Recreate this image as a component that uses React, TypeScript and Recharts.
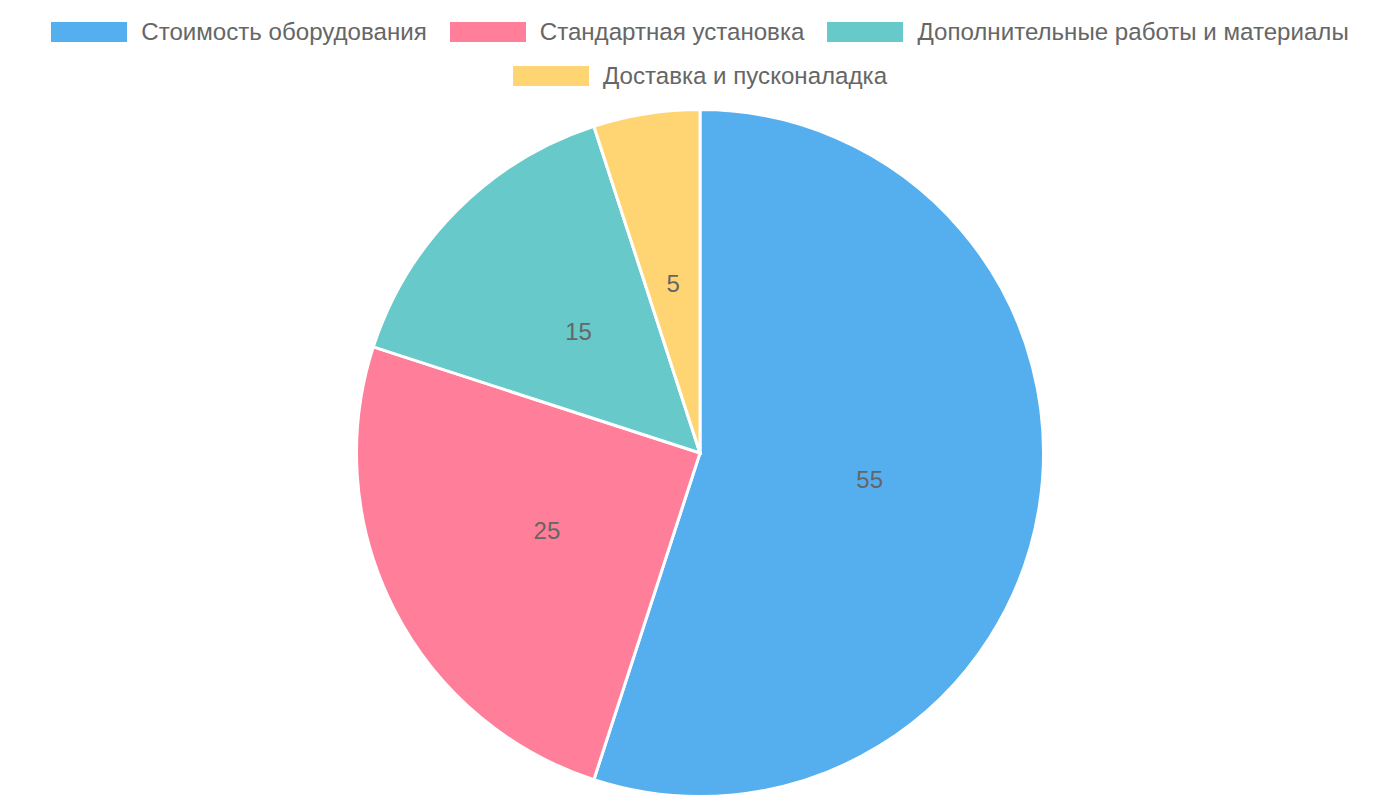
import { PieChart, Pie, Cell } from 'recharts';

const categories = [
  'Стоимость оборудования',
  'Стандартная установка',
  'Дополнительные работы и материалы',
  'Доставка и пусконаладка',
];
const shares = [55, 25, 15, 5];
const colors = ['#55AFEE', '#FF7E99', '#67C9C9', '#FFD573'];

const FONT = '"Liberation Sans", Arial, sans-serif';

const RAD = Math.PI / 180;

const renderLabel = ({ cx, cy, midAngle, outerRadius, value }: any) => {
  const r = outerRadius / 2;
  const x = cx + r * Math.cos(-midAngle * RAD);
  const y = cy + r * Math.sin(-midAngle * RAD);
  return (
    <text x={x} y={y} fill="#666" fontSize={24} fontFamily={FONT} textAnchor="middle" dominantBaseline="central">
      {value}
    </text>
  );
};

export default function App() {
  const data = categories.map((name, i) => ({ name, value: shares[i] }));

  return (
    <div style={{ position: 'absolute', left: 0, top: 0, width: 1400, height: 800, background: '#fff' }}>
      <div
        style={{
          position: 'absolute',
          left: 0,
          top: 10,
          width: 1400,
          display: 'flex',
          flexWrap: 'wrap',
          justifyContent: 'center',
          fontFamily: FONT,
          fontSize: 24.1,
          color: '#666',
          lineHeight: '44px',
        }}
      >
        {data.map((d, i) => (
          <div key={d.name} style={{ display: 'flex', alignItems: 'center', margin: '0 11.5px', whiteSpace: 'nowrap' }}>
            <span style={{ display: 'inline-block', width: 76, height: 20, background: colors[i], marginRight: 14 }} />
            <span>{d.name}</span>
          </div>
        ))}
      </div>
      <PieChart
        width={1400}
        height={800}
        margin={{ top: 0, right: 0, bottom: 0, left: 0 }}
        style={{ position: 'absolute', left: 0, top: 0 }}
      >
        <Pie
          data={data}
          dataKey="value"
          nameKey="name"
          cx={700}
          cy={453}
          outerRadius={343.5}
          startAngle={90}
          endAngle={-270}
          stroke="#fff"
          strokeWidth={3}
          label={renderLabel}
          labelLine={false}
          isAnimationActive={false}
        >
          {data.map((d, i) => (
            <Cell key={`cell-${i}`} fill={colors[i]} />
          ))}
        </Pie>
      </PieChart>
    </div>
  );
}
